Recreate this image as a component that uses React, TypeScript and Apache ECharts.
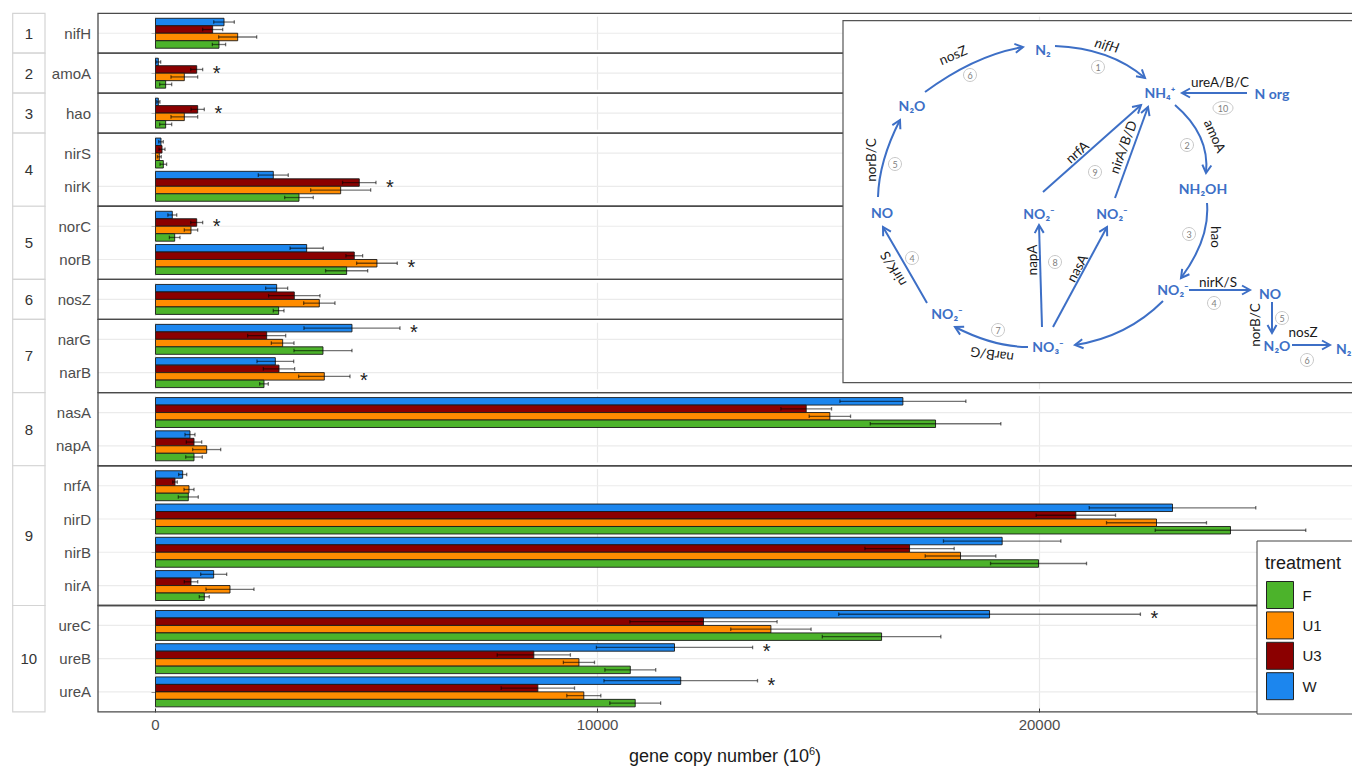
import React, { useEffect, useRef } from 'react';
import * as echarts from 'echarts';

// Treatments, in the order their bars are stacked (top to bottom) inside each gene
const BAR_ORDER = ['W', 'U3', 'U1', 'F'];
const LEGEND_ORDER = ['F', 'U1', 'U3', 'W'];
const COLORS: Record<string, string> = { F: '#4cb32b', U1: '#ff8c00', U3: '#8b0000', W: '#1c86ee' };

// Facets (pathway steps) and their genes, top to bottom
const STEPS = ['1', '2', '3', '4', '5', '6', '7', '8', '9', '10'];
const STEP_GENES = [
  ['nifH'], ['amoA'], ['hao'], ['nirS', 'nirK'], ['norC', 'norB'], ['nosZ'],
  ['narG', 'narB'], ['nasA', 'napA'], ['nrfA', 'nirD', 'nirB', 'nirA'], ['ureC', 'ureB', 'ureA'],
];
const GENES = STEP_GENES.flat();

// gene copy number (10^6): mean and standard error per treatment, in GENES order
const F_MEAN = [1436, 230, 230, 177, 3246, 434, 4324, 2786, 3789, 2454, 17648, 871, 742, 24321, 19978, 1104, 16427, 10742, 10853];
const F_SE = [150, 136, 136, 74, 324, 120, 476, 121, 656, 98, 1477, 188, 226, 1703, 1086, 113, 1341, 575, 575];
const U1_MEAN = [1859, 652, 652, 86, 4189, 803, 5010, 3706, 2877, 3819, 15257, 1158, 758, 22647, 18213, 1685, 13923, 9580, 9690];
const U1_SE = [430, 302, 302, 44, 679, 151, 460, 354, 256, 581, 468, 317, 113, 1131, 799, 543, 909, 352, 385];
const U3_MEAN = [1293, 932, 954, 147, 4610, 932, 4497, 3140, 2515, 2794, 14722, 871, 441, 20822, 17060, 803, 12398, 8559, 8650];
const U3_SE = [227, 135, 150, 68, 378, 135, 189, 581, 430, 354, 573, 174, 52, 898, 1010, 152, 1665, 828, 830];
const W_MEAN = [1550, 64, 64, 124, 2665, 380, 3420, 2741, 4445, 2711, 16909, 780, 615, 23009, 19155, 1316, 18870, 11742, 11883];
const W_SE = [233, 53, 36, 52, 339, 100, 376, 249, 1086, 415, 1425, 113, 91, 1884, 1328, 294, 3413, 1767, 1737];

// genes with a significant treatment effect
const SIGNIFICANT = ['amoA', 'hao', 'nirK', 'norC', 'norB', 'narG', 'narB', 'ureC', 'ureB', 'ureA'];

const X_TICKS = [0, 10000, 20000];

const MEANS: Record<string, number[]> = { F: F_MEAN, U1: U1_MEAN, U3: U3_MEAN, W: W_MEAN };
const SES: Record<string, number[]> = { F: F_SE, U1: U1_SE, U3: U3_SE, W: W_SE };

// layout
const UNIT = 33.27;
const TOP = 13.3;
const PLOT_LEFT = 98;
const PLOT_W = 1254;
const X_MIN = -1301;
const X_MAX = 27070;
const FONT = '"Liberation Sans", Arial, sans-serif';
const DIAG_FONT = 'Lato, "Open Sans", sans-serif';
const BLUE = '#3d6fc6';

function buildOption() {
  const grids: any[] = [];
  const xAxes: any[] = [];
  const yAxes: any[] = [];
  const series: any[] = [];
  const graphics: any[] = [];

  // treatment holding the star for each significant gene (highest mean + se)
  const starOf: Record<string, string> = {};
  GENES.forEach((g, gi) => {
    if (!SIGNIFICANT.includes(g)) return;
    let best = BAR_ORDER[0];
    BAR_ORDER.forEach((t) => {
      if (MEANS[t][gi] + SES[t][gi] > MEANS[best][gi] + SES[best][gi]) best = t;
    });
    starOf[g] = best;
  });

  let y = TOP;
  STEP_GENES.forEach((genes, p) => {
    const n = genes.length;
    const panelH = (n + 0.2) * UNIT;
    const last = p === STEP_GENES.length - 1;
    grids.push({ left: PLOT_LEFT, top: y + 0.1 * UNIT, width: PLOT_W, height: n * UNIT });
    xAxes.push({
      type: 'value', gridIndex: p, min: X_MIN, max: X_MAX, splitNumber: 6,
      axisLine: { show: false },
      axisTick: { show: last, customValues: X_TICKS, length: 4, lineStyle: { color: '#333' } },
      axisLabel: {
        show: last, customValues: X_TICKS, color: '#4d4d4d', fontSize: 15, fontFamily: FONT, margin: 8,
        formatter: (v: number) => (X_TICKS.includes(v) ? String(v) : ''),
      },
      splitLine: { show: true, lineStyle: { color: '#e8e8e8', width: 1.2 } },
      name: last ? 'gene copy number (10{sup|6})' : '',
      nameLocation: 'middle', nameGap: 37,
      nameTextStyle: {
        fontSize: 18, color: '#1a1a1a', fontFamily: FONT,
        rich: { sup: { fontSize: 11, verticalAlign: 'top', fontFamily: FONT, color: '#1a1a1a', padding: [0, 0, 10, 0] } },
      },
    });
    yAxes.push({
      type: 'category', gridIndex: p, data: genes, inverse: true,
      axisLine: { show: false },
      axisTick: { show: true, alignWithLabel: true, length: 4, lineStyle: { color: '#333' } },
      axisLabel: { color: '#4d4d4d', fontSize: 15, fontFamily: FONT, margin: 7 },
      splitLine: { show: false },
    });

    // horizontal grid line through each gene
    series.push({
      type: 'custom', name: 'gridline', xAxisIndex: p, yAxisIndex: p, z: 1, silent: true,
      data: genes.map((_, i) => [0, i]),
      encode: { x: 0, y: 1 },
      renderItem: (params: any, api: any) => {
        const c = api.coord([0, api.value(1)]);
        const cs = params.coordSys;
        return { type: 'line', shape: { x1: cs.x, y1: c[1], x2: cs.x + cs.width, y2: c[1] }, style: { stroke: '#ebebeb', lineWidth: 1.2 } };
      },
    });

    BAR_ORDER.forEach((t, k) => {
      const data = genes.map((g, i) => {
        const gi = GENES.indexOf(g);
        return [MEANS[t][gi], i, SES[t][gi], starOf[g] === t ? 1 : 0];
      });
      series.push({
        type: 'custom', name: t, xAxisIndex: p, yAxisIndex: p, z: 2,
        itemStyle: { color: COLORS[t] },
        data, encode: { x: 0, y: 1 },
        renderItem: (params: any, api: any) => {
          const v = api.value(0), ci = api.value(1), se = api.value(2), star = api.value(3);
          const base = api.coord([0, ci]);
          const band = api.size([0, 1])[1];
          const h = band * 0.225;
          const y0 = base[1] - band * 0.45 + k * h;
          const yc = y0 + h / 2;
          const xe = api.coord([v, ci])[0];
          const xl = api.coord([v - se, ci])[0];
          const xh = api.coord([v + se, ci])[0];
          const err = { stroke: 'rgba(0,0,0,0.55)', lineWidth: 1.3 };
          const children: any[] = [
            { type: 'rect', shape: { x: base[0], y: y0, width: xe - base[0], height: h }, style: { fill: COLORS[t], stroke: '#1a1a1a', lineWidth: 0.9 } },
            { type: 'line', shape: { x1: xl, y1: yc, x2: xh, y2: yc }, style: err },
            { type: 'line', shape: { x1: xl, y1: yc - 1.8, x2: xl, y2: yc + 1.8 }, style: err },
            { type: 'line', shape: { x1: xh, y1: yc - 1.8, x2: xh, y2: yc + 1.8 }, style: err },
          ];
          if (star) {
            children.push({
              type: 'text', x: xh + 14, y: yc + 4,
              style: { text: '*', fontSize: 20, fontFamily: FONT, fill: '#222', align: 'center', verticalAlign: 'middle' },
            });
          }
          return { type: 'group', children };
        },
      });
    });

    // facet strip and panel border
    graphics.push({
      type: 'rect', z: 5, shape: { x: 12.7, y, width: 32.3, height: panelH },
      style: { fill: '#fff', stroke: '#d4d4d4', lineWidth: 1.2 },
    });
    graphics.push({
      type: 'text', z: 6, x: 28.8, y: y + panelH / 2,
      style: { text: STEPS[p], fontSize: 15, fontFamily: FONT, fill: '#333', align: 'center', verticalAlign: 'middle' },
    });
    graphics.push({
      type: 'rect', z: 5, shape: { x: PLOT_LEFT, y, width: PLOT_W + 12, height: panelH },
      style: { fill: 'none', stroke: '#4a4a4a', lineWidth: 1.3 },
    });
    y += panelH;
  });

  // nitrogen-cycle scheme
  const diag: any[] = [];
  diag.push({ type: 'rect', z: 20, shape: { x: 843, y: 20.7, width: 530, height: 362 }, style: { fill: '#fff', stroke: '#555', lineWidth: 1.2 } });

  const arrow = (x1: number, y1: number, x2: number, y2: number, cx?: number, cy?: number) => {
    if (cx === undefined || cy === undefined) {
      diag.push({ type: 'line', z: 21, shape: { x1, y1, x2, y2 }, style: { stroke: BLUE, lineWidth: 2 } });
    } else {
      diag.push({ type: 'bezierCurve', z: 21, shape: { x1, y1, x2, y2, cpx1: cx, cpy1: cy }, style: { stroke: BLUE, lineWidth: 2, fill: 'none' } });
    }
    const dx = x2 - (cx ?? x1), dy = y2 - (cy ?? y1);
    const len = Math.hypot(dx, dy);
    const ux = dx / len, uy = dy / len;
    const L = 8, W = 4.5;
    const bx = x2 - ux * L, by = y2 - uy * L;
    diag.push({
      type: 'polyline', z: 21,
      shape: { points: [[bx - uy * W, by + ux * W], [x2, y2], [bx + uy * W, by - ux * W]] },
      style: { stroke: BLUE, lineWidth: 2, fill: 'none' },
    });
  };
  arrow(925, 92, 1023, 47, 975, 55);
  arrow(1055, 46, 1145, 78, 1110, 48);
  arrow(1247, 93, 1182, 93);
  arrow(1175, 105, 1206, 173, 1210, 135);
  arrow(1043, 192, 1141, 105);
  arrow(1115, 198, 1148, 107);
  arrow(878, 197, 900, 120, 879, 161);
  arrow(1207, 203, 1181, 278, 1210, 239);
  arrow(1189, 290, 1250, 290);
  arrow(1272, 302, 1272, 333);
  arrow(1292, 345, 1330, 345);
  arrow(1163, 301, 1075, 345, 1127, 337);
  arrow(1042, 327, 1039, 225);
  arrow(1053, 327, 1107, 227);
  arrow(1028, 347, 955, 327, 994, 347);
  arrow(927, 303, 883, 227, 907, 268);

  const node = (text: string, x: number, yy: number, align = 'center') => diag.push({
    type: 'text', z: 22, x, y: yy,
    style: { text, fontSize: 14, fontWeight: 'bold', fontFamily: DIAG_FONT, fill: BLUE, align, verticalAlign: 'middle' },
  });
  node('N₂', 1043, 49);
  node('NH₄⁺', 1160, 92);
  node('N org', 1272, 93);
  node('N₂O', 912, 105);
  node('NH₂OH', 1203, 188);
  node('NO', 882, 212);
  node('NO₂⁻', 1039, 213);
  node('NO₂⁻', 1112, 213);
  node('NO₂⁻', 1173, 289);
  node('NO', 1270, 293);
  node('N₂O', 1277, 345);
  node('N₂', 1336, 348, 'left');
  node('NO₂⁻', 947, 313);
  node('NO₃⁻', 1048, 346);

  const label = (text: string, x: number, yy: number, rotation = 0, italic = false) => diag.push({
    type: 'text', z: 22, x, y: yy, rotation,
    style: { text, fontSize: 13.5, fontStyle: italic ? 'italic' : 'normal', fontFamily: DIAG_FONT, fill: '#1a1a1a', align: 'center', verticalAlign: 'middle' },
  });
  label('nosZ', 953, 55, 0.4);
  label('nifH', 1107, 45, -0.25, true);
  label('ureA/B/C', 1220, 82);
  label('amoA', 1215, 136, -1.15);
  label('nrfA', 1077, 152, 0.72);
  label('nirA/B/D', 1123, 147, 1.22);
  label('norB/C', 871, 160, Math.PI / 2);
  label('hao', 1216, 237, -Math.PI / 2);
  label('nirK/S', 1218, 282);
  label('norB/C', 1255, 325, Math.PI / 2);
  label('nosZ', 1303, 332);
  label('napA', 1032, 260, Math.PI / 2);
  label('nasA', 1077, 268, 1.07);
  label('narB/G', 992, 355, Math.PI - 0.15);
  label('nirK/S', 893, 269, 2.1);

  const step = (text: string, x: number, yy: number) => {
    if (text.length > 1) {
      diag.push({ type: 'ellipse', z: 22, shape: { cx: x, cy: yy, rx: 10, ry: 6.5 }, style: { fill: '#fff', stroke: '#c8c8c8', lineWidth: 1 } });
    } else {
      diag.push({ type: 'circle', z: 22, shape: { cx: x, cy: yy, r: 6.5 }, style: { fill: '#fff', stroke: '#c8c8c8', lineWidth: 1 } });
    }
    diag.push({
      type: 'text', z: 23, x, y: yy,
      style: { text, fontSize: 9, fontFamily: DIAG_FONT, fill: '#808080', align: 'center', verticalAlign: 'middle' },
    });
  };
  step('6', 970, 75);
  step('1', 1098, 67);
  step('10', 1223, 108);
  step('2', 1187, 145);
  step('9', 1095, 172);
  step('5', 895, 164);
  step('3', 1189, 234);
  step('4', 1214, 303);
  step('5', 1282, 318);
  step('6', 1307, 360);
  step('8', 1055, 262);
  step('7', 998, 330);
  step('4', 912, 258);

  // legend frame and title
  graphics.push({ type: 'rect', z: 30, shape: { x: 1257, y: 541, width: 120, height: 173 }, style: { fill: '#fff', stroke: '#444', lineWidth: 1 } });
  graphics.push({
    type: 'text', z: 31, x: 1265, y: 563,
    style: { text: 'treatment', fontSize: 18, fontFamily: FONT, fill: '#1a1a1a', align: 'left', verticalAlign: 'middle' },
  });

  return {
    animation: false,
    backgroundColor: '#fff',
    grid: grids,
    xAxis: xAxes,
    yAxis: yAxes,
    series,
    legend: {
      z: 40, orient: 'vertical', left: 1266, top: 581, padding: 0,
      itemWidth: 27, itemHeight: 27, itemGap: 2.4, selectedMode: false,
      textStyle: { fontSize: 15, color: '#1a1a1a', fontFamily: FONT, padding: [0, 0, 0, 4] },
      data: LEGEND_ORDER.map((name) => ({
        name, icon: 'rect',
        itemStyle: { color: COLORS[name], borderColor: '#222', borderWidth: 1 },
      })),
    },
    graphic: { elements: [...graphics, ...diag] },
  };
}

export default function App() {
  const ref = useRef<HTMLDivElement>(null);
  useEffect(() => {
    if (!ref.current) return;
    const chart = echarts.init(ref.current, null, { renderer: 'svg' });
    chart.setOption(buildOption() as any);
    return () => chart.dispose();
  }, []);
  return <div ref={ref} style={{ position: 'fixed', left: 0, top: 0, width: 1352, height: 766, background: '#fff' }} />;
}
